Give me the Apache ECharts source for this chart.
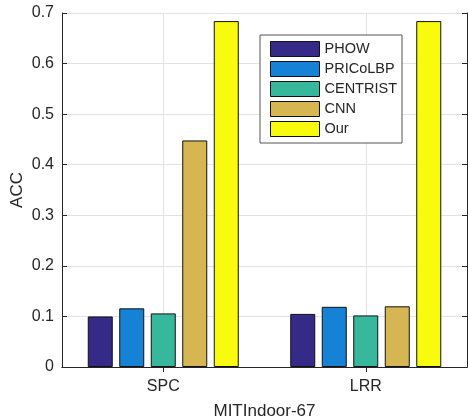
<!DOCTYPE html>
<html>
<head>
<meta charset="utf-8">
<script src="https://cdn.jsdelivr.net/npm/echarts@6/dist/echarts.min.js"></script>
<style>html,body{margin:0;padding:0;background:#fff}#c{width:468px;height:419px}</style>
</head>
<body>
<div id="c"></div>
<script>
var categories = ['SPC', 'LRR'];
var seriesNames = ['PHOW', 'PRICoLBP', 'CENTRIST', 'CNN', 'Our'];
var PHOW = [0.100, 0.105];
var PRICoLBP = [0.116, 0.119];
var CENTRIST = [0.106, 0.102];
var CNN = [0.448, 0.120];
var Our = [0.684, 0.684];
var yTicks = [0, 0.1, 0.2, 0.3, 0.4, 0.5, 0.6, 0.7];
var xAxisName = 'MITIndoor-67';
var yAxisName = 'ACC';

var colors = ['#352a87', '#1582d6', '#37b89d', '#d6b653', '#f9fb0e'];
var values = [PHOW, PRICoLBP, CENTRIST, CNN, Our];
var font = '"Liberation Sans", Arial, Helvetica, sans-serif';
var ink = '#262626';

var chart = echarts.init(document.getElementById('c'), null, {renderer: 'canvas'});
var series = seriesNames.map(function (n, i) {
  return {
    name: n, type: 'bar', data: values[i],
    barWidth: 25, barGap: '26%',
    itemStyle: {color: colors[i], borderColor: '#111', borderWidth: 1},
    emphasis: {disabled: true}
  };
});
chart.setOption({
  animation: false,
  textStyle: {fontFamily: font},
  grid: {left: 62, top: 13, right: 1, bottom: 52, containLabel: false, outerBoundsMode: 'none'},
  legend: {
    orient: 'vertical', left: 260, top: 35,
    padding: [6, 5, 6, 10],
    itemWidth: 49, itemHeight: 15, itemGap: 4,
    backgroundColor: '#fff', borderColor: '#555', borderWidth: 1,
    textStyle: {fontFamily: font, fontSize: 14.5, color: ink},
    data: seriesNames.map(function (n, i) {
      return {name: n, icon: 'rect', itemStyle: {color: colors[i], borderColor: '#111', borderWidth: 1}};
    })
  },
  xAxis: [{
    type: 'category', data: categories, position: 'bottom',
    axisLine: {lineStyle: {color: ink, width: 1}},
    axisTick: {show: true, inside: true, alignWithLabel: true, length: 5, lineStyle: {color: ink}},
    axisLabel: {fontSize: 16, color: ink, margin: 12, fontFamily: font},
    splitLine: {show: false},
    name: xAxisName, nameLocation: 'middle', nameGap: 36, nameMoveOverlap: false,
    nameTextStyle: {fontSize: 17, color: ink, fontFamily: font}
  }, {
    type: 'category', data: ['a', 'b', 'c', 'd', 'e'], position: 'top', boundaryGap: false,
    axisLine: {show: true, lineStyle: {color: ink, width: 1}},
    axisTick: {show: true, inside: true, length: 5, lineStyle: {color: ink},
      interval: function (i) { return i === 1 || i === 3; }},
    axisLabel: {show: false},
    splitLine: {show: true, lineStyle: {color: '#e3e3e3', width: 1},
      interval: function (i) { return i === 1 || i === 3; }}
  }],
  yAxis: [{
    type: 'value', min: yTicks[0], max: yTicks[yTicks.length - 1], interval: 0.1,
    position: 'left',
    axisLine: {show: true, lineStyle: {color: ink, width: 1}},
    axisTick: {show: true, inside: true, length: 5, lineStyle: {color: ink}},
    axisLabel: {fontSize: 16, color: ink, margin: 8, fontFamily: font,
      formatter: function (v) { return String(Math.round(v * 10) / 10); }},
    splitLine: {show: true, lineStyle: {color: '#e3e3e3', width: 1}},
    name: yAxisName, nameLocation: 'middle', nameGap: 36, nameMoveOverlap: false,
    nameTextStyle: {fontSize: 17, color: ink, fontFamily: font}
  }, {
    type: 'value', min: yTicks[0], max: yTicks[yTicks.length - 1], interval: 0.1,
    position: 'right',
    axisLine: {show: true, lineStyle: {color: ink, width: 1}},
    axisTick: {show: true, inside: true, length: 5, lineStyle: {color: ink}},
    axisLabel: {show: false},
    splitLine: {show: false}
  }],
  series: series
});
</script>
</body>
</html>
